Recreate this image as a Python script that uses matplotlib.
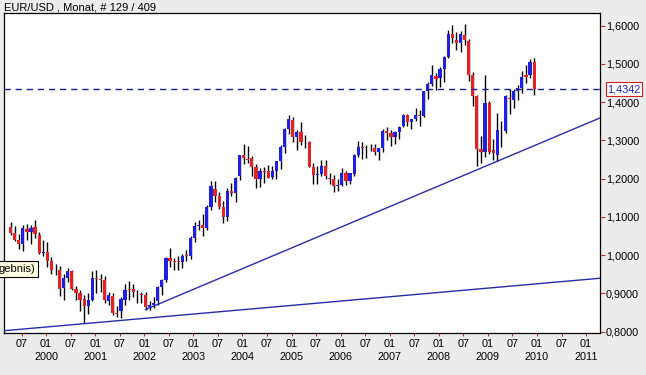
import numpy as np
import matplotlib
matplotlib.use("Agg")
import matplotlib.pyplot as plt
import matplotlib.transforms as mtransforms

# EUR/USD monthly candles, Apr 1999 .. Dec 2009 (129 bars)
first_month = (1999, 4)

opens = [
    1.074, 1.058, 1.040, 1.028, 1.068, 1.060, 1.073, 1.053, 1.005,
    1.009, 0.984, 0.960, 0.960, 0.913, 0.940, 0.958, 0.912, 0.900, 0.885, 0.866, 0.882,
    0.940, 0.938, 0.936, 0.880, 0.894, 0.850, 0.853, 0.884, 0.912, 0.912, 0.902, 0.898,
    0.897, 0.865, 0.869, 0.879, 0.917, 0.934, 0.993, 0.986, 0.984, 0.982, 1.000, 0.997,
    1.045, 1.077, 1.080, 1.071, 1.126, 1.173, 1.154, 1.126, 1.101, 1.169, 1.162, 1.206,
    1.262, 1.250, 1.253, 1.230, 1.199, 1.219, 1.219, 1.205, 1.219, 1.245, 1.284, 1.329,
    1.354, 1.308, 1.323, 1.297, 1.297, 1.230, 1.210, 1.212, 1.233, 1.203, 1.198, 1.181,
    1.184, 1.216, 1.195, 1.213, 1.262, 1.283, 1.280, 1.279, 1.281, 1.271, 1.280, 1.326,
    1.320, 1.308, 1.323, 1.338, 1.367, 1.347, 1.356, 1.367, 1.365, 1.428, 1.448, 1.469,
    1.463, 1.486, 1.519, 1.578, 1.563, 1.556, 1.576, 1.561, 1.471, 1.415, 1.277, 1.271,
    1.397, 1.274, 1.262, 1.326, 1.325, 1.412, 1.406, 1.428, 1.437, 1.471, 1.471, 1.506,
]
highs = [
    1.088, 1.076, 1.055, 1.080, 1.082, 1.078, 1.093, 1.061, 1.040,
    1.034, 0.995, 0.978, 0.972, 0.950, 0.966, 0.962, 0.920, 0.910, 0.895, 0.900, 0.958,
    0.962, 0.950, 0.945, 0.905, 0.900, 0.868, 0.890, 0.925, 0.932, 0.925, 0.910, 0.905,
    0.905, 0.880, 0.890, 0.920, 0.937, 0.996, 1.019, 0.992, 0.998, 1.003, 1.014, 1.050,
    1.087, 1.093, 1.108, 1.130, 1.193, 1.193, 1.166, 1.141, 1.175, 1.188, 1.205, 1.263,
    1.290, 1.285, 1.259, 1.239, 1.229, 1.231, 1.236, 1.232, 1.243, 1.287, 1.333, 1.367,
    1.360, 1.327, 1.349, 1.315, 1.299, 1.240, 1.232, 1.250, 1.250, 1.216, 1.210, 1.200,
    1.229, 1.220, 1.216, 1.265, 1.298, 1.295, 1.287, 1.292, 1.290, 1.280, 1.330, 1.335,
    1.327, 1.325, 1.339, 1.370, 1.368, 1.355, 1.385, 1.380, 1.430, 1.452, 1.497, 1.476,
    1.492, 1.522, 1.590, 1.602, 1.584, 1.585, 1.604, 1.564, 1.480, 1.418, 1.312, 1.470,
    1.402, 1.305, 1.371, 1.350, 1.419, 1.434, 1.434, 1.445, 1.482, 1.496, 1.514, 1.515,
]
lows = [
    1.053, 1.036, 1.015, 1.012, 1.040, 1.030, 1.045, 1.003, 0.999,
    0.968, 0.950, 0.948, 0.893, 0.884, 0.930, 0.910, 0.884, 0.853, 0.823, 0.845, 0.880,
    0.902, 0.905, 0.874, 0.870, 0.843, 0.838, 0.836, 0.870, 0.883, 0.890, 0.875, 0.875,
    0.858, 0.857, 0.862, 0.870, 0.897, 0.930, 0.970, 0.962, 0.960, 0.967, 0.985, 0.990,
    1.035, 1.066, 1.050, 1.065, 1.117, 1.140, 1.121, 1.085, 1.090, 1.155, 1.140, 1.196,
    1.239, 1.240, 1.208, 1.176, 1.178, 1.190, 1.202, 1.198, 1.200, 1.225, 1.267, 1.318,
    1.297, 1.276, 1.289, 1.281, 1.230, 1.186, 1.187, 1.208, 1.199, 1.186, 1.164, 1.169,
    1.181, 1.183, 1.187, 1.207, 1.258, 1.252, 1.253, 1.272, 1.262, 1.249, 1.270, 1.300,
    1.286, 1.290, 1.305, 1.335, 1.339, 1.329, 1.351, 1.338, 1.360, 1.409, 1.442, 1.433,
    1.440, 1.452, 1.516, 1.555, 1.537, 1.530, 1.550, 1.456, 1.389, 1.232, 1.241, 1.258,
    1.265, 1.249, 1.245, 1.283, 1.320, 1.370, 1.384, 1.405, 1.424, 1.451, 1.462, 1.420,
]
closes = [
    1.058, 1.040, 1.028, 1.071, 1.061, 1.072, 1.055, 1.007, 1.009,
    0.984, 0.960, 0.962, 0.912, 0.940, 0.958, 0.912, 0.900, 0.884, 0.867, 0.882, 0.940,
    0.938, 0.936, 0.884, 0.897, 0.849, 0.847, 0.886, 0.910, 0.910, 0.903, 0.900, 0.897,
    0.865, 0.871, 0.875, 0.917, 0.934, 0.993, 0.986, 0.983, 0.982, 0.999, 0.997, 1.045,
    1.077, 1.078, 1.071, 1.126, 1.180, 1.155, 1.126, 1.101, 1.169, 1.162, 1.201, 1.262,
    1.253, 1.249, 1.231, 1.199, 1.221, 1.217, 1.201, 1.219, 1.245, 1.284, 1.329, 1.356,
    1.308, 1.323, 1.297, 1.295, 1.231, 1.210, 1.212, 1.233, 1.207, 1.199, 1.181, 1.184,
    1.216, 1.195, 1.214, 1.262, 1.284, 1.280, 1.279, 1.281, 1.271, 1.280, 1.326, 1.320,
    1.308, 1.323, 1.336, 1.367, 1.347, 1.356, 1.367, 1.364, 1.428, 1.448, 1.471, 1.460,
    1.486, 1.519, 1.578, 1.567, 1.556, 1.578, 1.563, 1.471, 1.415, 1.277, 1.271, 1.397,
    1.271, 1.268, 1.328, 1.324, 1.415, 1.408, 1.428, 1.437, 1.465, 1.465, 1.506, 1.4342,
]

last_price = 1.4342
title = "EUR/USD , Monat, # 129 / 409"
tooltip = "gebnis)"

# trendlines as (year, month, price) anchors
trend_low = [(2000, 10, 0.821), (2010, 10, 0.934)]
trend_high = [(2002, 1, 0.858), (2009, 3, 1.2457)]

y_ticks = [0.8, 0.9, 1.0, 1.1, 1.2, 1.3, 1.4, 1.5, 1.6]
tick_years = range(1999, 2012)


def month_index(year, month):
    # months counted from Jan 2000
    return (year - 2000) * 12 + (month - 1)


def main():
    plt.rcParams["font.family"] = ["Liberation Sans", "DejaVu Sans"]

    o = np.array(opens)
    h = np.array(highs)
    l = np.array(lows)
    c = np.array(closes)
    x = month_index(*first_month) + np.arange(len(o))

    fig = plt.figure(figsize=(6.46, 3.75), dpi=100, facecolor="#ececec")
    ax = fig.add_axes([4 / 646, 1 - 333 / 375, 596 / 646, 320 / 375])
    ax.set_facecolor("white")

    # candles
    colors = np.where(c >= o, "#1f1fe0", "#e02424")
    ax.vlines(x, l, h, color="black", lw=1.0, zorder=2)
    ax.bar(x, np.maximum(np.abs(c - o), 0.002), bottom=np.minimum(o, c),
           width=0.78, color=colors, lw=0, zorder=3)

    ax.set_xlim(-10.6, 135.1)
    ax.set_ylim(0.7966, 1.6332)

    # last price line
    ax.axhline(last_price, color="#1c1c8c", lw=1.0, dashes=(4.5, 3.5), zorder=4)

    # trendlines
    p0 = (month_index(*trend_low[0][:2]), trend_low[0][2])
    p1 = (month_index(*trend_low[1][:2]), trend_low[1][2])
    ax.axline(p0, p1, color="#2a2aa8", lw=1.0, zorder=4)

    q0 = (month_index(*trend_high[0][:2]), trend_high[0][2])
    q1 = (month_index(*trend_high[1][:2]), trend_high[1][2])
    slope = (q1[1] - q0[1]) / (q1[0] - q0[0])
    x_end = ax.get_xlim()[1]
    ax.plot([q0[0], x_end], [q0[1], q0[1] + slope * (x_end - q0[0])],
            color="#2a2aa8", lw=1.0, zorder=4)

    # y axis on the right
    ax.yaxis.tick_right()
    ax.set_yticks(y_ticks)
    ax.set_yticklabels([f"{v:.4f}".replace(".", ",") for v in y_ticks])
    ax.tick_params(axis="y", direction="out", length=3.5, width=0.8,
                   color="#c83030", labelsize=7.8, pad=0.8)

    # x axis: Jan / Jul ticks, year under Jan
    xt, xl = [], []
    for yr in tick_years:
        for mo in (1, 7):
            m = month_index(yr, mo)
            if m < -10 or m > 134:
                continue
            xt.append(m - 0.3)
            xl.append("01\n%d" % yr if mo == 1 else "07")
    ax.set_xticks(xt)
    ax.set_xticklabels(xl)
    ax.tick_params(axis="x", direction="out", length=2.5, width=0.8,
                   color="#c83030", labelsize=7.8, pad=2)
    for t in ax.get_xticklabels():
        t.set_linespacing(1.4)

    for s in ax.spines.values():
        s.set_color("black")
        s.set_linewidth(0.9)

    # price tag on the axis
    trans = mtransforms.blended_transform_factory(ax.transAxes, ax.transData)
    ax.text(1.012, last_price, "1,4342", transform=trans, ha="left", va="center",
            fontsize=7.8, color="#2020c0", zorder=6,
            bbox=dict(boxstyle="square,pad=0.15", fc="white", ec="#d02020", lw=0.8))

    fig.text(4 / 646, 1 - 8 / 375, title, fontsize=8, ha="left", va="center")

    fig.text(-0.002, 1 - 269 / 375, tooltip, fontsize=8, ha="left", va="center",
             zorder=10,
             bbox=dict(boxstyle="square,pad=0.25", fc="#ffffe1", ec="black", lw=0.8))

    fig.savefig("out.png", dpi=100, facecolor=fig.get_facecolor())
    plt.close(fig)


if __name__ == "__main__":
    main()
